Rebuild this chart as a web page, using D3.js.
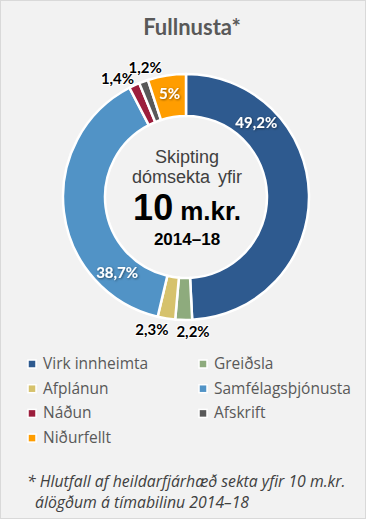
<!DOCTYPE html>
<html><head><meta charset="utf-8">
<script src="https://cdn.jsdelivr.net/npm/d3@7"></script>
<style>
html,body{margin:0;padding:0;background:#f2f2f2;}
svg{display:block;}
</style></head>
<body>
<script>
// ---- data ----
const categories = ["Virk innheimta","Greiðsla","Afplánun","Samfélagsþjónusta","Náðun","Afskrift","Niðurfellt"];
const values = [49.2, 2.2, 2.3, 38.7, 1.4, 1.2, 5];
const valueLabels = ["49,2%","2,2%","2,3%","38,7%","1,4%","1,2%","5%"];
const colors = ["#2e5a8f","#8eab7d","#d6c26c","#5193c6","#9c1e3c","#595959","#ff9d00"];
const title = "Fullnusta*";
const centerLines = ["Skipting","dómsekta yfir","10","m.kr.","2014–18"];
const footnote = ["* Hlutfall af heildarfjárhæð sekta yfir 10 m.kr.","álögðum á tímabilinu 2014–18"];

// ---- layout ----
const W = 366, H = 519;
const cx = 186, cy = 197, rOuter = 123, rInner = 81;
// label placement: angle (deg from top, clockwise), radius, inside?
const labelPlace = [
  {a:43, r:103, inside:true},
  {a:177, r:134, inside:false},
  {a:194.5, r:136, inside:false},
  {a:222.5, r:102, inside:true},
  {a:330, r:137, inside:false},
  {a:342.5, r:136, inside:false},
  {a:351, r:105, inside:true}
];

const svg = d3.select("body").append("svg").attr("width", W).attr("height", H);
const defs = svg.append("defs");
const f = defs.append("filter").attr("id","sh").attr("x","-20%").attr("y","-20%").attr("width","140%").attr("height","140%");
f.append("feDropShadow").attr("dx",0.8).attr("dy",0.8).attr("stdDeviation",0.8).attr("flood-color","#000").attr("flood-opacity",0.55);

svg.append("rect").attr("x",0.5).attr("y",0.5).attr("width",W-1).attr("height",H-1)
  .attr("fill","#f2f2f2").attr("stroke","#d9d9d9");

svg.append("text").attr("x",192).attr("y",35).attr("text-anchor","middle")
  .attr("font-family","Lato").attr("font-weight",700).attr("font-size",22)
  .attr("fill","#595959").text(title);

const pie = d3.pie().sort(null).value(d => d)(values);
const arc = d3.arc().innerRadius(rInner).outerRadius(rOuter);
const g = svg.append("g").attr("transform",`translate(${cx},${cy})`);
g.selectAll("path.slice").data(pie).join("path").attr("class","slice")
  .attr("d", arc).attr("fill",(d,i)=>colors[i])
  .attr("stroke","#fff").attr("stroke-width",2.5).attr("stroke-linejoin","miter");

// labels
g.selectAll("text.lbl").data(pie).join("text").attr("class","lbl")
  .each(function(d,i){
    const p = labelPlace[i];
    const a = p.a*Math.PI/180;
    const t = d3.select(this)
      .attr("x", p.r*Math.sin(a)).attr("y", -p.r*Math.cos(a))
      .attr("text-anchor","middle").attr("dominant-baseline","central")
      .attr("font-family","Lato").attr("font-weight",700).attr("font-size",15)
      .text(valueLabels[i]);
    if (p.inside) {
      t.attr("fill","#fff").attr("filter","url(#sh)");
    } else {
      t.attr("fill","#000").attr("stroke","#fff").attr("stroke-width",2)
       .attr("paint-order","stroke").attr("stroke-linejoin","round");
    }
  });

// center text
const ct = svg.append("g").attr("text-anchor","middle").attr("font-family","Liberation Sans, Arial, sans-serif");
ct.append("text").attr("x",187).attr("y",163).attr("font-size",18).attr("fill","#404040").text(centerLines[0]);
ct.append("text").attr("x",187).attr("y",183).attr("font-size",18).attr("fill","#404040").attr("word-spacing",3).text(centerLines[1]);
const big = ct.append("text").attr("x",187).attr("y",220).attr("font-weight",700).attr("fill","#000");
big.append("tspan").attr("font-size",36).text(centerLines[2]);
big.append("tspan").attr("font-size",26).attr("dx",7).text(centerLines[3]);
ct.append("text").attr("x",187).attr("y",245).attr("font-size",17).attr("font-weight",700).attr("fill","#000").text(centerLines[4]);

// legend
const legend = svg.append("g");
const colX = [28, 199], row0 = 369, rowH = 24.7;
categories.forEach((c,i)=>{
  const col = i%2, row = Math.floor(i/2);
  const x = colX[col], y = row0 + row*rowH;
  legend.append("rect").attr("x",x).attr("y",y-9).attr("width",8).attr("height",8)
    .attr("fill",colors[i]).attr("stroke","#fff").attr("stroke-width",1.5);
  legend.append("text").attr("x",x+15).attr("y",y).attr("font-family","Open Sans")
    .attr("font-size",15.5).attr("fill","#595959").text(c);
});

// footnote
svg.append("text").attr("x",27).attr("y",487).attr("font-family","Open Sans").attr("font-style","italic")
  .attr("font-size",15.8).attr("fill","#404040").text(footnote[0]);
svg.append("text").attr("x",35).attr("y",508).attr("font-family","Open Sans").attr("font-style","italic")
  .attr("font-size",15.8).attr("fill","#404040").text(footnote[1]);
</script>
</body></html>
